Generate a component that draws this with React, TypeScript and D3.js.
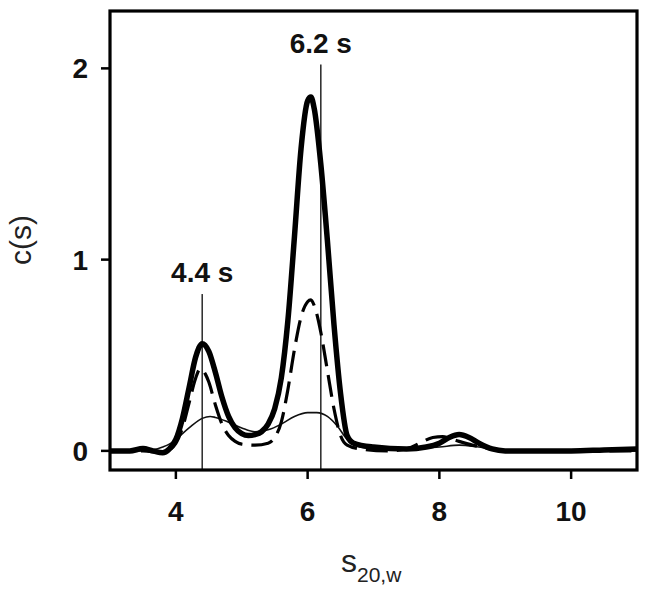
import React from 'react';
import * as d3 from 'd3';

// sedimentation coefficient distributions
const thickX = [3.0, 3.3, 3.5, 3.65, 3.8, 3.9, 4.0, 4.1, 4.2, 4.3, 4.4, 4.5, 4.6, 4.7, 4.8, 4.9, 5.0, 5.1, 5.2, 5.3, 5.4, 5.5, 5.6, 5.7, 5.8, 5.9, 6.0, 6.05, 6.1, 6.2, 6.3, 6.4, 6.5, 6.6, 6.7, 7.0, 7.5, 7.8, 8.0, 8.15, 8.3, 8.45, 8.6, 8.8, 9.0, 9.5, 10.0, 10.5, 11.0];
const thickY = [0.0, 0.0, 0.012, 0.0, -0.01, 0.01, 0.06, 0.17, 0.33, 0.49, 0.56, 0.52, 0.41, 0.28, 0.18, 0.12, 0.09, 0.08, 0.085, 0.1, 0.14, 0.22, 0.38, 0.68, 1.12, 1.58, 1.83, 1.85, 1.79, 1.5, 1.1, 0.66, 0.3, 0.08, 0.04, 0.02, 0.01, 0.02, 0.04, 0.07, 0.085, 0.07, 0.04, 0.01, 0.0, 0.0, 0.0, 0.005, 0.01];

const dashX = [3.0, 3.5, 3.8, 4.0, 4.1, 4.2, 4.3, 4.37, 4.45, 4.5, 4.6, 4.7, 4.8, 4.9, 5.0, 5.2, 5.4, 5.5, 5.6, 5.7, 5.8, 5.9, 6.0, 6.05, 6.1, 6.2, 6.3, 6.4, 6.5, 6.6, 6.8, 7.2, 7.5, 7.7, 7.9, 8.05, 8.2, 8.5, 8.8, 9.0, 10.0, 11.0];
const dashY = [0.0, 0.0, -0.01, 0.04, 0.12, 0.25, 0.38, 0.43, 0.4, 0.36, 0.24, 0.14, 0.08, 0.05, 0.035, 0.03, 0.04, 0.07, 0.15, 0.32, 0.53, 0.7, 0.78, 0.79, 0.76, 0.62, 0.42, 0.22, 0.08, 0.03, 0.01, 0.0, 0.01, 0.04, 0.07, 0.075, 0.06, 0.03, 0.01, 0.0, 0.0, 0.0];

const thinX = [3.0, 3.5, 3.8, 3.9, 4.0, 4.2, 4.4, 4.52, 4.6, 4.8, 5.0, 5.2, 5.4, 5.6, 5.8, 6.0, 6.14, 6.3, 6.45, 6.6, 6.8, 7.0, 7.5, 8.0, 8.3, 8.6, 9.0, 10.0, 11.0];
const thinY = [0.0, 0.0, 0.02, 0.035, 0.06, 0.12, 0.17, 0.18, 0.175, 0.15, 0.12, 0.1, 0.11, 0.14, 0.18, 0.2, 0.2, 0.18, 0.13, 0.06, 0.02, 0.01, 0.01, 0.02, 0.03, 0.02, 0.0, 0.0, 0.0];

const xTicks = [4, 6, 8, 10];
const yTicks = [0, 1, 2];
const peakMarks = [4.4, 6.2];
const peakLabels = ['4.4 s', '6.2 s'];
const peakTops = [0.82, 2.02];

const W = 649;
const H = 595;
const left = 110, right = 637, top = 11, bottom = 470;
const font = '"Liberation Sans", Arial, sans-serif';

export default function App() {
  const x = d3.scaleLinear().domain([3, 11]).range([left, right]);
  const y = d3.scaleLinear().domain([-0.1, 2.3]).range([bottom, top]);

  const line = d3.line<[number, number]>()
    .x(d => x(d[0]))
    .y(d => y(d[1]))
    .curve(d3.curveMonotoneX);

  const zip = (xs: number[], ys: number[]) => xs.map((v, i) => [v, ys[i]] as [number, number]);

  return (
    <svg width={W} height={H} style={{ position: 'absolute', left: 0, top: 0, background: '#fff' }}>
      <defs>
        <clipPath id="plot">
          <rect x={left} y={top} width={right - left} height={bottom - top} />
        </clipPath>
      </defs>

      {/* peak marker lines */}
      {peakMarks.map((p, i) => (
        <g key={p}>
          <line x1={x(p)} x2={x(p)} y1={y(peakTops[i])} y2={bottom} stroke="#333" strokeWidth={1.6} />
          <text x={x(p)} y={y(peakTops[i]) - 12} textAnchor="middle" fontFamily={font}
            fontWeight="bold" fontSize={28} fill="#111">{peakLabels[i]}</text>
        </g>
      ))}

      <g clipPath="url(#plot)" fill="none" stroke="#000" strokeLinejoin="round" strokeLinecap="round">
        <path d={line(zip(thinX, thinY)) || ''} strokeWidth={1.6} stroke="#111" />
        <path d={line(zip(dashX, dashY)) || ''} strokeWidth={3.2} strokeDasharray="22,9" strokeLinecap="butt" />
        <path d={line(zip(thickX, thickY)) || ''} strokeWidth={5.5} />
      </g>

      {/* frame */}
      <rect x={left} y={top} width={right - left} height={bottom - top} fill="none" stroke="#000" strokeWidth={3.2} />

      {xTicks.map(t => (
        <g key={t}>
          <line x1={x(t)} x2={x(t)} y1={bottom} y2={bottom + 9} stroke="#000" strokeWidth={2.5} />
          <text x={x(t)} y={521} textAnchor="middle" fontFamily={font} fontWeight="bold" fontSize={28} fill="#111">{t}</text>
        </g>
      ))}
      {yTicks.map(t => (
        <g key={t}>
          <line x1={left - 9} x2={left} y1={y(t)} y2={y(t)} stroke="#000" strokeWidth={2.5} />
          <text x={88} y={y(t) + 10} textAnchor="end" fontFamily={font} fontWeight="bold" fontSize={28} fill="#111">{t}</text>
        </g>
      ))}

      <text transform="translate(31,240) rotate(-90)" textAnchor="middle" fontFamily={font} fontSize={30} fill="#222">c(s)</text>
      <text x={341} y={572} fontFamily={font} fontSize={32} fill="#222">
        s<tspan dy={10} fontSize={21}>20,w</tspan>
      </text>
    </svg>
  );
}
